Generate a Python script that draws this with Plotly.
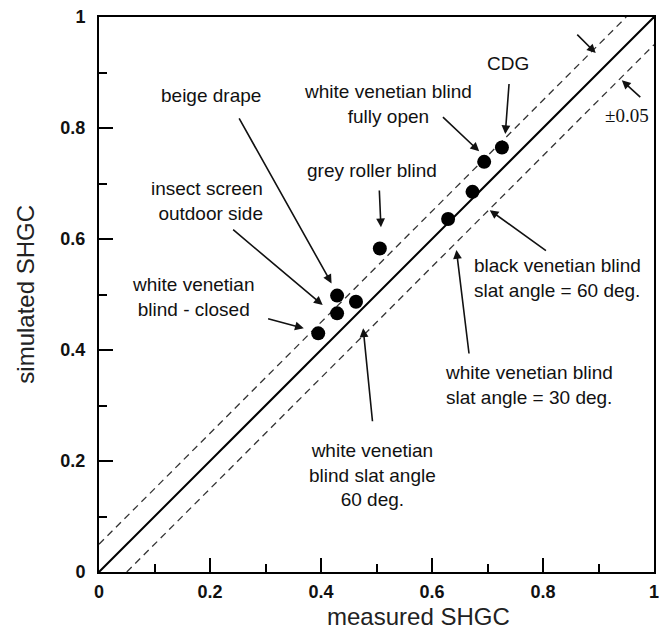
import plotly.graph_objects as go

# measured vs simulated SHGC
measured = [0.395, 0.429, 0.429, 0.463, 0.506, 0.629, 0.673, 0.694, 0.726]
simulated = [0.430, 0.466, 0.498, 0.487, 0.583, 0.636, 0.685, 0.739, 0.765]

diag = [0.0, 1.0]
band = 0.05

tick_vals = [0, 0.2, 0.4, 0.6, 0.8, 1]
tick_text = ["0", "0.2", "0.4", "0.6", "0.8", "1"]

# labels: text, x, y, anchor
label_text = [
    "beige drape",
    "insect screen<br>outdoor side",
    "white venetian<br>blind - closed",
    "grey roller blind",
    "white venetian blind<br>fully open",
    "CDG",
    "black venetian blind<br>slat angle = 60 deg.",
    "white venetian blind<br>slat angle = 30 deg.",
    "white venetian<br>blind slat angle<br>60 deg.",
]
label_x = [0.202, 0.299, 0.170, 0.491, 0.520, 0.737, 0.672, 0.619, 0.492]
label_y = [0.859, 0.669, 0.495, 0.724, 0.844, 0.917, 0.529, 0.337, 0.175]
label_anchor = ["center", "right", "center", "center", "center", "center", "left", "left", "center"]

# arrows: tail -> head
arrow_tail_x = [0.251, 0.239, 0.302, 0.505, 0.617, 0.739, 0.808, 0.667, 0.493, 0.978, 0.859]
arrow_tail_y = [0.820, 0.619, 0.457, 0.690, 0.822, 0.882, 0.577, 0.391, 0.269, 0.853, 0.971]
arrow_head_x = [0.419, 0.403, 0.369, 0.508, 0.685, 0.732, 0.704, 0.644, 0.476, 0.942, 0.895]
arrow_head_y = [0.520, 0.481, 0.439, 0.621, 0.758, 0.789, 0.652, 0.580, 0.439, 0.886, 0.935]

band_label = "±0.05"
band_label_x, band_label_y = 0.952, 0.823

fig = go.Figure()

fig.add_trace(go.Scatter(x=diag, y=diag, mode="lines",
                         line=dict(color="black", width=2), showlegend=False))
fig.add_trace(go.Scatter(x=[diag[0], diag[1] - band], y=[diag[0] + band, diag[1]], mode="lines",
                         line=dict(color="#333", width=1.3, dash="7px,5px"), showlegend=False))
fig.add_trace(go.Scatter(x=[diag[0] + band, diag[1]], y=[diag[0], diag[1] - band], mode="lines",
                         line=dict(color="#333", width=1.3, dash="7px,5px"), showlegend=False))
fig.add_trace(go.Scatter(x=measured, y=simulated, mode="markers",
                         marker=dict(color="black", size=14), showlegend=False))

font_lbl = dict(family="Liberation Sans, Arial", size=19, color="#111")
anns = []
for t, x, y, a in zip(label_text, label_x, label_y, label_anchor):
    anns.append(dict(x=x, y=y, xref="x", yref="y", text=t, showarrow=False,
                     xanchor=a, yanchor="middle", align=a,
                     font=font_lbl))
for tx, ty, hx, hy in zip(arrow_tail_x, arrow_tail_y, arrow_head_x, arrow_head_y):
    anns.append(dict(x=hx, y=hy, ax=tx, ay=ty, xref="x", yref="y", axref="x", ayref="y",
                     text="", showarrow=True, arrowhead=2, arrowsize=1.1, arrowwidth=1.6,
                     arrowcolor="#111", standoff=0, startstandoff=0))
anns.append(dict(x=band_label_x, y=band_label_y, xref="x", yref="y", text=band_label,
                 showarrow=False, font=dict(family="Liberation Serif, Times New Roman", size=19, color="#111")))
# axis titles
anns.append(dict(x=0.575, y=-0.08, xref="x", yref="paper", text="measured SHGC", showarrow=False,
                 xanchor="center", yanchor="middle",
                 font=dict(family="Liberation Sans, Arial", size=24, color="#222")))
anns.append(dict(x=-0.133, y=0.5, xref="paper", yref="y", text="simulated SHGC", showarrow=False,
                 textangle=-90, xanchor="center", yanchor="middle",
                 font=dict(family="Liberation Sans, Arial", size=24, color="#222")))

axis_common = dict(range=[0, 1], showgrid=False, zeroline=False, showline=True, mirror=True,
                   linecolor="black", linewidth=2, ticks="inside", ticklen=14, tickwidth=1.6,
                   tickcolor="black", tickvals=tick_vals, ticktext=tick_text, automargin=False,
                   tickfont=dict(family="Liberation Sans, Arial", size=18, color="#111", weight="bold"),
                   minor=dict(dtick=0.1, tick0=0, ticks="inside", ticklen=8, tickwidth=1.6, tickcolor="black"))

fig.update_layout(
    width=663, height=643,
    margin=dict(l=99, r=9, t=17, b=71),
    paper_bgcolor="white", plot_bgcolor="white",
    xaxis=dict(**axis_common, ticklabelstandoff=2),
    yaxis=dict(**axis_common, ticklabelstandoff=8),
    annotations=anns,
    showlegend=False,
)

fig.write_html("out.html", config={"displayModeBar": False},
               post_script="document.body.style.margin='0px';document.body.style.overflow='hidden';")
